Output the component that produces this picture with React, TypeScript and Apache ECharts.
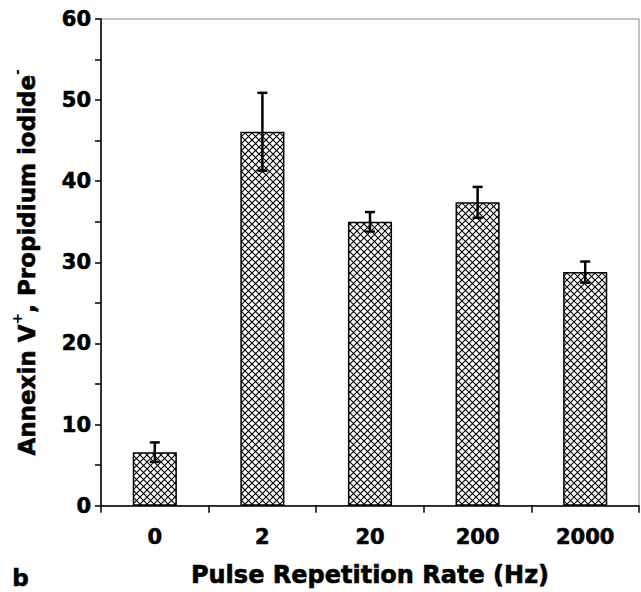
import React, { useEffect, useRef } from "react";
import * as echarts from "echarts";

const categories = ["0", "2", "20", "200", "2000"];
const values = [6.6, 46.1, 35.0, 37.4, 28.8];
const errors = [1.2, 4.8, 1.2, 1.9, 1.3];
const xTitle = "Pulse Repetition Rate (Hz)";
const panelLabel = "b";

const FONT = "'DejaVu Sans', Verdana, sans-serif";
const HEAVY = { textBorderColor: "#000", textBorderWidth: 0.6 };

function makeHatch(): HTMLCanvasElement {
  const s = 7;
  const c = document.createElement("canvas");
  c.width = s;
  c.height = s;
  const ctx = c.getContext("2d")!;
  ctx.fillStyle = "#fff";
  ctx.fillRect(0, 0, s, s);
  ctx.strokeStyle = "#000";
  ctx.lineWidth = 1.1;
  ctx.beginPath();
  ctx.moveTo(-1, -1);
  ctx.lineTo(s + 1, s + 1);
  ctx.moveTo(s + 1, -1);
  ctx.lineTo(-1, s + 1);
  ctx.stroke();
  return c;
}

export default function App() {
  const ref = useRef<HTMLDivElement>(null);
  useEffect(() => {
    if (!ref.current) return;
    const chart = echarts.init(ref.current, undefined, { renderer: "svg" });
    const hatch = makeHatch();
    chart.setOption({
      animation: false,
      backgroundColor: "#fff",
      grid: {
        left: 101,
        right: 2,
        top: 19,
        bottom: 86,
        show: true,
        borderColor: "#888",
        borderWidth: 1,
      },
      xAxis: {
        type: "category",
        data: categories,
        name: xTitle,
        nameLocation: "middle",
        nameGap: 57,
        nameTextStyle: { fontFamily: FONT, fontWeight: "bold", fontSize: 24, color: "#000", ...HEAVY },
        axisLine: { lineStyle: { color: "#000", width: 1.5 } },
        axisTick: { show: true, length: 7, lineStyle: { color: "#000", width: 1.5 } },
        axisLabel: { fontFamily: FONT, fontWeight: "bold", fontSize: 21, color: "#000", margin: 21, ...HEAVY },
      },
      yAxis: {
        type: "value",
        min: 0,
        max: 60,
        interval: 5,
        name: "{n|Annexin V}{s|+}{n|, Propidium iodide}{s|-}",
        nameLocation: "middle",
        nameRotate: 90,
        nameGap: 63,
        nameTextStyle: {
          fontFamily: FONT,
          fontWeight: "bold",
          fontSize: 23,
          color: "#000",
          rich: {
            n: { fontFamily: FONT, fontWeight: "bold", fontSize: 23, color: "#000", lineHeight: 28, verticalAlign: "bottom", ...HEAVY },
            s: { fontFamily: FONT, fontWeight: "bold", fontSize: 14, color: "#000", lineHeight: 28, verticalAlign: "top", padding: [0, 0, 12, 0] },
          },
        },
        splitLine: { show: false },
        axisLine: { show: true, lineStyle: { color: "#000", width: 1.5 } },
        axisTick: { show: true, length: 6, lineStyle: { color: "#000", width: 1.5 } },
        axisLabel: {
          fontFamily: FONT,
          fontWeight: "bold",
          fontSize: 21,
          color: "#000",
          margin: 10,
          ...HEAVY,
          formatter: (v: number) => (v % 10 === 0 ? String(v) : ""),
        },
      },
      graphic: [
        {
          type: "text",
          left: 12,
          top: 566,
          style: { text: panelLabel, font: `bold 23px ${FONT}`, fill: "#000", stroke: "#000", lineWidth: 0.6 },
        },
      ],
      series: [
        {
          type: "bar",
          data: values,
          barWidth: "41%",
          itemStyle: {
            color: { image: hatch, repeat: "repeat" },
            borderColor: "#000",
            borderWidth: 1.5,
          },
        },
        {
          type: "custom",
          data: values.map((v, i) => [i, v - errors[i], v + errors[i]]),
          encode: { x: 0, y: [1, 2] },
          z: 10,
          renderItem: (params: any, api: any) => {
            const x = api.value(0);
            const lo = api.coord([x, api.value(1)]);
            const hi = api.coord([x, api.value(2)]);
            const half = 5;
            const st = { stroke: "#000", lineWidth: 2.5 };
            return {
              type: "group",
              children: [
                { type: "line", shape: { x1: lo[0], y1: lo[1], x2: hi[0], y2: hi[1] }, style: st },
                { type: "line", shape: { x1: hi[0] - half, y1: hi[1], x2: hi[0] + half, y2: hi[1] }, style: st },
                { type: "line", shape: { x1: lo[0] - half, y1: lo[1], x2: lo[0] + half, y2: lo[1] }, style: st },
              ],
            };
          },
        },
      ],
    });
    return () => chart.dispose();
  }, []);
  return <div ref={ref} style={{ width: 641, height: 592, position: "absolute", left: 0, top: 0 }} />;
}
